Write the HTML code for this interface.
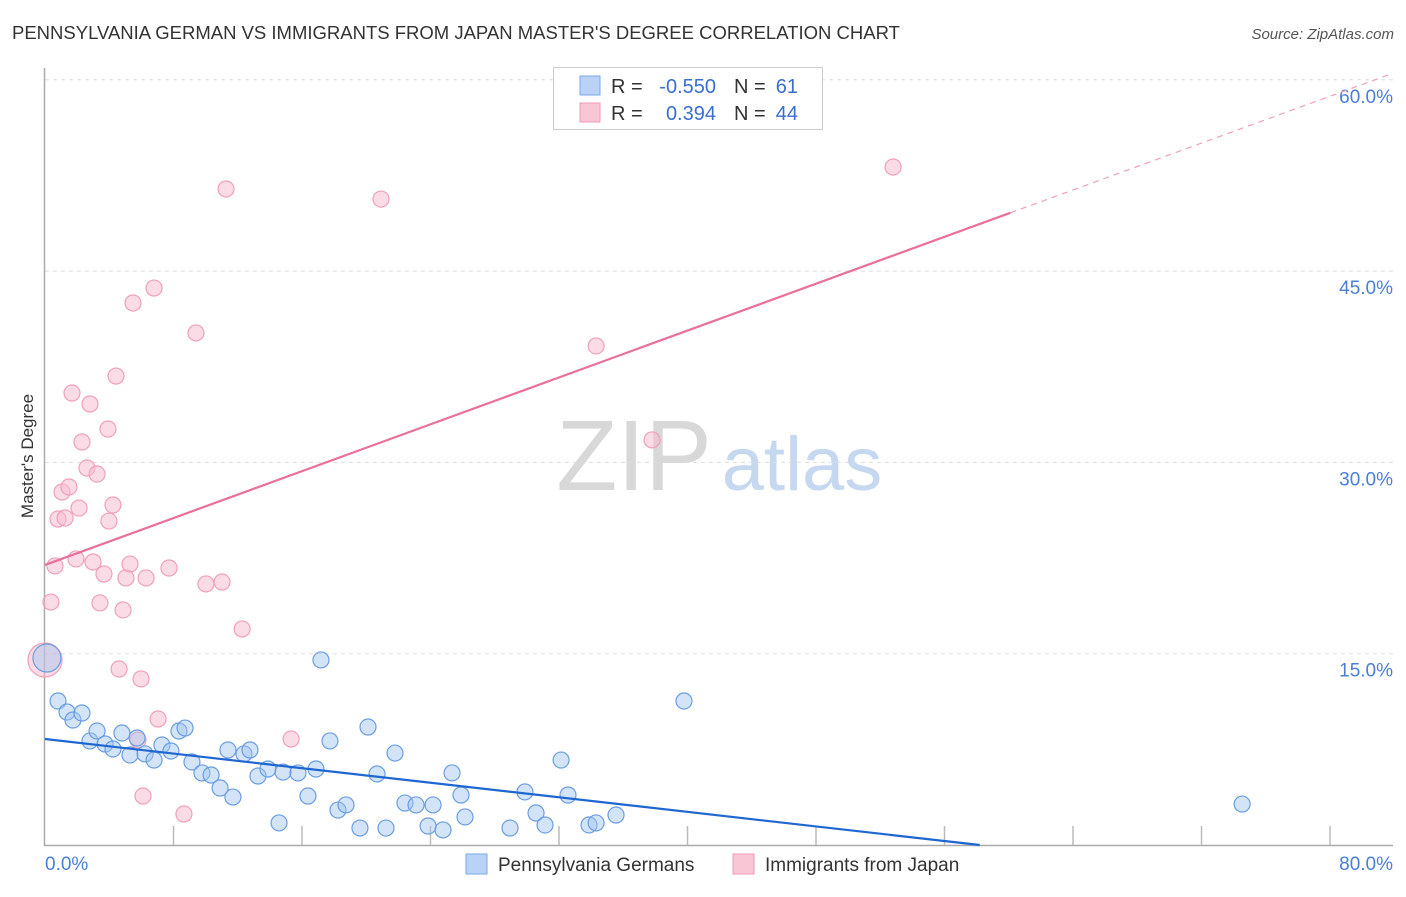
<!DOCTYPE html>
<html><head><meta charset="utf-8"><style>
body{margin:0;background:#fff;font-family:"Liberation Sans",sans-serif}
svg text{font-family:"Liberation Sans",sans-serif}
</style></head><body>
<svg id="chart" width="1406" height="892" viewBox="0 0 1406 892" xmlns="http://www.w3.org/2000/svg">
<text x="12" y="39" font-size="18.5" fill="#333">PENNSYLVANIA GERMAN VS IMMIGRANTS FROM JAPAN MASTER'S DEGREE CORRELATION CHART</text>
<text x="1394" y="39" font-size="15" fill="#555" text-anchor="end" font-style="italic">Source: ZipAtlas.com</text>
<text transform="translate(33,456) rotate(-90)" font-size="17" fill="#333" text-anchor="middle">Master's Degree</text>
<g>
<text x="634" y="490" font-size="100" fill="#d8d8d8" text-anchor="middle" font-family="Liberation Serif,serif">ZIP</text>
<text x="802" y="490" font-size="76" fill="#c6d8f0" text-anchor="middle">atlas</text>
</g>
<g id="grid"></g>
<g id="axes"></g>
<g id="pts"></g>
<g id="lines"></g>
<g>
<rect x="553.5" y="67.5" width="269" height="62" fill="#fff" stroke="#ccc"/>
<rect x="580" y="76" width="20" height="19" fill="#b9d2f5" stroke="#7aaae8"/>
<rect x="580" y="103" width="20" height="19" fill="#f9c6d6" stroke="#f09ab5"/>
<text x="611" y="93" font-size="20" fill="#333">R =</text>
<text x="716" y="93" font-size="20" fill="#3a6fd0" text-anchor="end">-0.550</text>
<text x="734" y="93" font-size="20" fill="#333">N =</text>
<text x="798" y="93" font-size="20" fill="#3a6fd0" text-anchor="end">61</text>
<text x="611" y="120" font-size="20" fill="#333">R =</text>
<text x="716" y="120" font-size="20" fill="#3a6fd0" text-anchor="end">0.394</text>
<text x="734" y="120" font-size="20" fill="#333">N =</text>
<text x="798" y="120" font-size="20" fill="#3a6fd0" text-anchor="end">44</text>
</g>
<g>
<rect x="466" y="854" width="21" height="20" fill="#b9d2f5" stroke="#7aaae8"/>
<text x="498" y="871" font-size="19" fill="#333">Pennsylvania Germans</text>
<rect x="733" y="854" width="21" height="20" fill="#f9c6d6" stroke="#f09ab5"/>
<text x="765" y="871" font-size="19" fill="#333">Immigrants from Japan</text>
</g>
</svg>
<script>
const yTicks=[15,30,45,60];
const yTickLabels=["15.0%","30.0%","45.0%","60.0%"];
const xTicks=[0,8,16,24,32,40,48,56,64,72,80];
const blueX=[0.12,0.81,1.37,1.74,2.30,2.80,3.24,3.74,4.23,4.79,5.29,5.73,6.23,6.79,7.28,7.84,8.34,8.72,9.15,9.77,10.34,10.90,11.70,11.39,12.39,12.76,13.26,13.88,14.82,14.57,15.75,16.37,16.87,17.18,17.74,18.24,18.74,19.61,20.11,20.67,21.23,21.79,22.41,23.10,23.85,24.16,24.78,25.34,25.90,26.15,28.95,29.88,30.57,31.13,32.13,32.56,33.87,34.31,35.55,39.78,74.53];
const blueY=[14.66,11.29,10.43,9.80,10.35,8.16,8.94,7.92,7.53,8.78,7.06,8.39,7.14,6.66,7.84,7.37,8.94,9.17,6.51,5.65,5.49,4.47,3.76,7.45,7.14,7.45,5.41,5.96,5.72,1.73,5.65,3.84,5.96,14.51,8.16,2.74,3.14,1.33,9.25,5.57,1.33,7.21,3.29,3.14,1.49,3.14,1.18,5.65,3.92,2.20,1.33,4.16,2.51,1.57,6.66,3.92,1.57,1.73,2.35,11.29,3.21];
const pinkX=[0,0.37,0.62,0.81,1.06,1.25,1.49,1.68,1.93,2.12,2.30,2.61,2.80,2.99,3.24,3.42,3.67,3.92,3.98,4.23,4.42,4.61,4.86,5.04,5.29,5.48,5.79,5.98,6.10,6.29,6.79,7.04,7.72,8.65,9.40,10.02,11.02,11.27,12.27,15.32,20.92,34.31,37.79,52.80];
const pinkY=[14.51,19.05,21.88,25.56,27.68,25.64,28.07,35.44,22.43,26.42,31.60,29.56,34.58,22.19,29.09,18.98,21.25,32.62,25.40,26.66,36.77,13.80,18.43,20.94,22.03,42.50,8.23,13.02,3.84,20.94,43.67,9.88,21.72,2.43,40.15,20.47,20.62,51.44,16.94,8.31,50.65,39.13,31.76,53.16];
const blueTrend=[8.31,-0.1428];
const pinkTrend=[21.96,0.4594];
const NS="http://www.w3.org/2000/svg";
const X=v=>45+v*1285/80;
const Y=v=>845-v*191.3/15;
function mk(tag,attrs,parent){const e=document.createElementNS(NS,tag);for(const k in attrs)e.setAttribute(k,attrs[k]);document.getElementById(parent).appendChild(e);return e;}
yTicks.forEach((t,i)=>{
 const g=mk('line',{x1:45,x2:1393,y1:Y(t),y2:Y(t),stroke:'#ddd','stroke-dasharray':'4,4'},'grid');
 
 
 const l=mk('text',{x:1393,y:Y(t)+23,'font-size':19,fill:'#4a7fd8','text-anchor':'end'},'grid');
 l.textContent=yTickLabels[i];
 
 
});
const ax=mk('path',{d:`M44.5 68 V845.5 H1393`,stroke:'#aaa',fill:'none','stroke-width':1.5},'axes');


xTicks.forEach(t=>{if(t===0)return;
 const k=mk('line',{x1:X(t),x2:X(t),y1:826,y2:845,stroke:'#bbb','stroke-width':1.5},'axes');
 
 
});
const x0=mk('text',{x:45,y:870,'font-size':19,fill:'#4a7fd8'},'axes');x0.textContent='0.0%';


const x1=mk('text',{x:1393,y:870,'font-size':19,fill:'#4a7fd8','text-anchor':'end'},'axes');x1.textContent='80.0%';


pinkX.forEach((v,i)=>{const c=mk('circle',{cx:X(v),cy:Y(pinkY[i]),r:i===0?17:8,fill:'rgba(248,185,205,0.5)',stroke:'#f0a0ba','stroke-width':1.2},'pts');
 
 });
blueX.forEach((v,i)=>{const c=mk('circle',{cx:X(v),cy:Y(blueY[i]),r:i===0?14:8,fill:'rgba(160,195,240,0.45)',stroke:'#6a9ee0','stroke-width':1.2},'pts');
 
 });
const bEnd=-blueTrend[0]/blueTrend[1];
const bl=mk('line',{x1:X(0),y1:Y(blueTrend[0]),x2:X(bEnd),y2:Y(0),stroke:'#1e66d0','stroke-width':2.2},'lines');


const pm=60.1,pe=83.7;
const pl=mk('line',{x1:X(0),y1:Y(pinkTrend[0]),x2:X(pm),y2:Y(pinkTrend[0]+pinkTrend[1]*pm),stroke:'#e8709a','stroke-width':2.2},'lines');


const pd=mk('line',{x1:X(pm),y1:Y(pinkTrend[0]+pinkTrend[1]*pm),x2:X(pe),y2:Y(pinkTrend[0]+pinkTrend[1]*pe),stroke:'#f0a0ba','stroke-width':1.2,'stroke-dasharray':'6,5'},'lines');


</script>
</body></html>
